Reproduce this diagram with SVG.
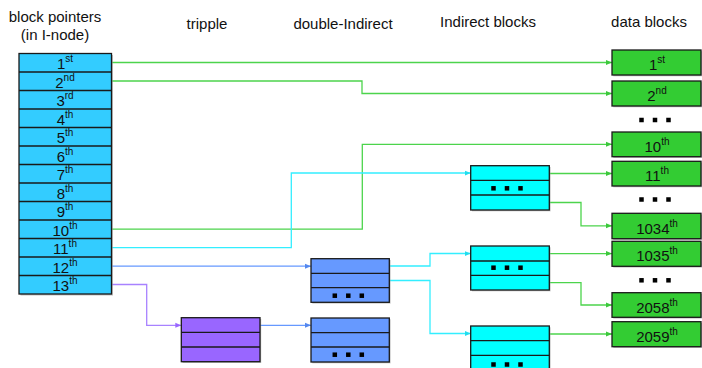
<svg xmlns="http://www.w3.org/2000/svg" width="702" height="368" viewBox="0 0 702 368">
<style>
  text { font-family: "Liberation Sans", Arial, sans-serif; fill: #111; }
  .hdr { font-size: 15px; text-anchor: middle; }
  .lbl { font-size: 15px; text-anchor: middle; }
  .sup { font-size: 10px; }
  .box { stroke: #1a1a1a; stroke-width: 1.3; }
  .shadow { fill: #9a9a9a; opacity: 0.6; }
  .ptr { fill: #33CCFF; }
  .ind { fill: #00FFFF; }
  .dbl { fill: #6699FF; }
  .tri { fill: #9966FF; }
  .dat { fill: #33CC33; }
  .dot { fill: #000; }
  .c { fill: none; stroke-width: 1.3; }
  .g { stroke: #4CD44C; }
  .cy { stroke: #33EEFF; }
  .bl { stroke: #6699FF; }
  .pu { stroke: #A882FF; }
</style>
<defs>
  <marker id="ag" markerUnits="userSpaceOnUse" markerWidth="6" markerHeight="6" refX="6" refY="3" orient="auto"><path d="M0,0.5 L6,3 L0,5.5 z" fill="#3CC83C"/></marker>
  <marker id="ac" markerUnits="userSpaceOnUse" markerWidth="6" markerHeight="6" refX="6" refY="3" orient="auto"><path d="M0,0.5 L6,3 L0,5.5 z" fill="#22DDEE"/></marker>
  <marker id="ab" markerUnits="userSpaceOnUse" markerWidth="6" markerHeight="6" refX="6" refY="3" orient="auto"><path d="M0,0.5 L6,3 L0,5.5 z" fill="#5588EE"/></marker>
  <marker id="ap" markerUnits="userSpaceOnUse" markerWidth="6" markerHeight="6" refX="6" refY="3" orient="auto"><path d="M0,0.5 L6,3 L0,5.5 z" fill="#9966FF"/></marker>
  <g id="dots3"><rect x="-15.75" y="-2.25" width="4.5" height="4.5"/><rect x="-2.25" y="-2.25" width="4.5" height="4.5"/><rect x="11.25" y="-2.25" width="4.5" height="4.5"/></g>
</defs>

<g id="headers">
  <text class="hdr" x="55" y="22">block pointers</text>
  <text class="hdr" x="55" y="40">(in I-node)</text>
  <text class="hdr" x="207" y="29">tripple</text>
  <text class="hdr" x="343" y="29">double-Indirect</text>
  <text class="hdr" x="488" y="27">Indirect blocks</text>
  <text class="hdr" x="649" y="27">data blocks</text>
</g>

<g id="connectors">
  <polyline class="c g" points="111,62.5 612,62.5" marker-end="url(#ag)"/>
  <polyline class="c g" points="111,81 362,81 362,93.5 612,93.5" marker-end="url(#ag)"/>
  <polyline class="c g" points="111,229.2 362.3,229.2 362.3,144.3 612,144.3" marker-end="url(#ag)"/>
  <polyline class="c cy" points="111,247.7 291.3,247.7 291.3,173 470.7,173" marker-end="url(#ac)"/>
  <polyline class="c bl" points="111,266.2 311,266.2" marker-end="url(#ab)"/>
  <polyline class="c pu" points="111,284.5 146.7,284.5 146.7,325.3 181.3,325.3" marker-end="url(#ap)"/>
  <polyline class="c bl" points="260,325.3 311,325.3" marker-end="url(#ab)"/>
  <polyline class="c cy" points="389.3,266 430,266 430,253.5 470.7,253.5" marker-end="url(#ac)"/>
  <polyline class="c cy" points="389.3,280.5 430,280.5 430,333.5 470.7,333.5" marker-end="url(#ac)"/>
  <polyline class="c g" points="549.3,173.5 612,173.5" marker-end="url(#ag)"/>
  <polyline class="c g" points="549.3,202.5 581,202.5 581,225.8 612,225.8" marker-end="url(#ag)"/>
  <polyline class="c g" points="549.3,253.6 612,253.6" marker-end="url(#ag)"/>
  <polyline class="c g" points="549.3,282.7 581,282.7 581,305 612,305" marker-end="url(#ag)"/>
  <polyline class="c g" points="549.3,334 612,334" marker-end="url(#ag)"/>
</g>

<g id="inode-pointers">
  <rect class="shadow" x="20.5" y="55" width="92.5" height="240.5"/>
  <rect class="box ptr" x="19" y="53.5" width="92.5" height="240.5"/>
  <g class="box" fill="none">
    <line x1="19" y1="72" x2="111.5" y2="72"/>
    <line x1="19" y1="90.5" x2="111.5" y2="90.5"/>
    <line x1="19" y1="109" x2="111.5" y2="109"/>
    <line x1="19" y1="127.5" x2="111.5" y2="127.5"/>
    <line x1="19" y1="146" x2="111.5" y2="146"/>
    <line x1="19" y1="164.5" x2="111.5" y2="164.5"/>
    <line x1="19" y1="183" x2="111.5" y2="183"/>
    <line x1="19" y1="201.5" x2="111.5" y2="201.5"/>
    <line x1="19" y1="220" x2="111.5" y2="220"/>
    <line x1="19" y1="238.5" x2="111.5" y2="238.5"/>
    <line x1="19" y1="257" x2="111.5" y2="257"/>
    <line x1="19" y1="275.5" x2="111.5" y2="275.5"/>
  </g>
  <text class="lbl" x="65" y="69">1<tspan class="sup" dy="-7">st</tspan></text>
  <text class="lbl" x="65" y="87.5">2<tspan class="sup" dy="-7">nd</tspan></text>
  <text class="lbl" x="65" y="106">3<tspan class="sup" dy="-7">rd</tspan></text>
  <text class="lbl" x="65" y="124.5">4<tspan class="sup" dy="-7">th</tspan></text>
  <text class="lbl" x="65" y="143">5<tspan class="sup" dy="-7">th</tspan></text>
  <text class="lbl" x="65" y="161.5">6<tspan class="sup" dy="-7">th</tspan></text>
  <text class="lbl" x="65" y="180">7<tspan class="sup" dy="-7">th</tspan></text>
  <text class="lbl" x="65" y="198.5">8<tspan class="sup" dy="-7">th</tspan></text>
  <text class="lbl" x="65" y="217">9<tspan class="sup" dy="-7">th</tspan></text>
  <text class="lbl" x="65" y="235.5">10<tspan class="sup" dy="-7">th</tspan></text>
  <text class="lbl" x="65" y="254">11<tspan class="sup" dy="-7">th</tspan></text>
  <text class="lbl" x="65" y="272.5">12<tspan class="sup" dy="-7">th</tspan></text>
  <text class="lbl" x="65" y="291">13<tspan class="sup" dy="-7">th</tspan></text>
</g>

<g id="tripple-block">
  <rect class="shadow" x="182.5" y="319" width="78.7" height="44"/>
  <rect class="box tri" x="181.3" y="317.7" width="78.7" height="44"/>
  <line class="box" x1="181.3" y1="332.3" x2="260" y2="332.3"/>
  <line class="box" x1="181.3" y1="347" x2="260" y2="347"/>
</g>

<g id="double-indirect-1">
  <rect class="shadow" x="312.3" y="260" width="78.3" height="43.6"/>
  <rect class="box dbl" x="311" y="258.7" width="78.3" height="43.6"/>
  <line class="box" x1="311" y1="273.3" x2="389.3" y2="273.3"/>
  <line class="box" x1="311" y1="287.7" x2="389.3" y2="287.7"/>
  <use href="#dots3" class="dot" x="348.3" y="295.7"/>
</g>

<g id="double-indirect-2">
  <rect class="shadow" x="312.3" y="319.3" width="78.3" height="44"/>
  <rect class="box dbl" x="311" y="318" width="78.3" height="44"/>
  <line class="box" x1="311" y1="332.7" x2="389.3" y2="332.7"/>
  <line class="box" x1="311" y1="347" x2="389.3" y2="347"/>
  <use href="#dots3" class="dot" x="348.3" y="354.7"/>
</g>

<g id="indirect-1">
  <rect class="shadow" x="472" y="167" width="78.6" height="44.3"/>
  <rect class="box ind" x="470.7" y="165.7" width="78.6" height="44.3"/>
  <line class="box" x1="470.7" y1="180.3" x2="549.3" y2="180.3"/>
  <line class="box" x1="470.7" y1="195" x2="549.3" y2="195"/>
  <use href="#dots3" class="dot" x="507" y="188.3"/>
</g>

<g id="indirect-2">
  <rect class="shadow" x="472" y="247.3" width="78.6" height="44"/>
  <rect class="box ind" x="470.7" y="246" width="78.6" height="44"/>
  <line class="box" x1="470.7" y1="261" x2="549.3" y2="261"/>
  <line class="box" x1="470.7" y1="275.3" x2="549.3" y2="275.3"/>
  <use href="#dots3" class="dot" x="507" y="267.7"/>
</g>

<g id="indirect-3">
  <rect class="shadow" x="472" y="327.3" width="78.6" height="44"/>
  <rect class="box ind" x="470.7" y="326" width="78.6" height="44"/>
  <line class="box" x1="470.7" y1="340.7" x2="549.3" y2="340.7"/>
  <line class="box" x1="470.7" y1="355.3" x2="549.3" y2="355.3"/>
  <use href="#dots3" class="dot" x="507" y="364.5"/>
</g>

<g id="data-1st"><rect class="shadow" x="613.3" y="51.3" width="89" height="25"/><rect class="box dat" x="612" y="50" width="89" height="25"/><text class="lbl" x="657" y="70">1<tspan class="sup" dy="-7">st</tspan></text></g>
<g id="data-2nd"><rect class="shadow" x="613.3" y="82.3" width="89" height="25"/><rect class="box dat" x="612" y="81" width="89" height="25"/><text class="lbl" x="657" y="101">2<tspan class="sup" dy="-7">nd</tspan></text></g>
<g id="data-dots-1"><use href="#dots3" class="dot" x="655" y="120"/></g>
<g id="data-10th"><rect class="shadow" x="613.3" y="133.3" width="89" height="24.7"/><rect class="box dat" x="612" y="132" width="89" height="24.7"/><text class="lbl" x="657" y="152">10<tspan class="sup" dy="-7">th</tspan></text></g>
<g id="data-11th"><rect class="shadow" x="613.3" y="162.6" width="89" height="24.7"/><rect class="box dat" x="612" y="161.3" width="89" height="24.7"/><text class="lbl" x="657" y="181.3">11<tspan class="sup" dy="-7">th</tspan></text></g>
<g id="data-dots-2"><use href="#dots3" class="dot" x="655" y="199.5"/></g>
<g id="data-1034th"><rect class="shadow" x="613.3" y="214.6" width="89" height="25.4"/><rect class="box dat" x="612" y="213.3" width="89" height="25.4"/><text class="lbl" x="657" y="233.5">1034<tspan class="sup" dy="-7">th</tspan></text></g>
<g id="data-1035th"><rect class="shadow" x="613.3" y="242.6" width="89" height="25"/><rect class="box dat" x="612" y="241.3" width="89" height="25"/><text class="lbl" x="657" y="261.3">1035<tspan class="sup" dy="-7">th</tspan></text></g>
<g id="data-dots-3"><use href="#dots3" class="dot" x="655" y="280.3"/></g>
<g id="data-2058th"><rect class="shadow" x="613.3" y="294" width="89" height="24.6"/><rect class="box dat" x="612" y="292.7" width="89" height="24.6"/><text class="lbl" x="657" y="312.5">2058<tspan class="sup" dy="-7">th</tspan></text></g>
<g id="data-2059th"><rect class="shadow" x="613.3" y="323" width="89" height="25"/><rect class="box dat" x="612" y="321.7" width="89" height="25"/><text class="lbl" x="657" y="341.5">2059<tspan class="sup" dy="-7">th</tspan></text></g>
</svg>
